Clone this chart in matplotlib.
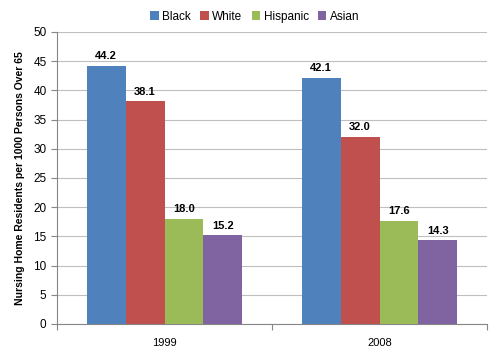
import matplotlib.pyplot as plt
import numpy as np

plt.rcParams['font.family'] = ['Liberation Sans', 'DejaVu Sans']

years = ['1999', '2008']
series = ['Black', 'White', 'Hispanic', 'Asian']
black = [44.2, 42.1]
white = [38.1, 32.0]
hispanic = [18.0, 17.6]
asian = [15.2, 14.3]
colors = ['#4F81BD', '#C0504D', '#9BBB59', '#8064A2']

fig = plt.figure(figsize=(5, 3.58), dpi=100)
ax = fig.add_axes([0.114, 0.095, 0.86, 0.816])

x = np.arange(len(years))
w = 0.181
for i, (name, vals) in enumerate(zip(series, [black, white, hispanic, asian])):
    pos = x + (i - 1.5) * w
    ax.bar(pos, vals, w, color=colors[i], label=name, zorder=3)
    for p, v in zip(pos, vals):
        ax.text(p, v + 0.8, f'{v:.1f}', ha='center', va='bottom',
                fontsize=8, fontweight='bold')

ax.set_xlim(-0.5, 1.5)
ax.set_ylim(0, 50)
ax.set_yticks(range(0, 51, 5))
ax.set_xticks([-0.5, 0.5, 1.5], minor=False)
ax.set_xticklabels([])
ax.set_xticks(x, minor=True)
ax.set_xticklabels(years, minor=True)
ax.tick_params(axis='x', which='minor', length=0, labelsize=8, pad=10)
ax.tick_params(axis='x', which='major', length=4, color='#868686')
ax.tick_params(axis='y', length=4, color='#868686', labelsize=8.5)
ax.grid(axis='y', color='#BFBFBF', linewidth=0.8, zorder=0)
for s in ['top', 'right']:
    ax.spines[s].set_visible(False)
ax.spines['left'].set_color('#868686')
ax.spines['bottom'].set_color('#868686')

ax.set_ylabel('Nursing Home Residents per 1000 Persons Over 65',
              fontsize=7.5, fontweight='bold', labelpad=6)

fig.legend(loc='upper center', bbox_to_anchor=(0.51, 1.0), ncol=4,
           frameon=False, fontsize=8.5, handlelength=0.7, handleheight=0.7,
           handletextpad=0.3, columnspacing=0.8)

fig.savefig('out.png', dpi=100)
